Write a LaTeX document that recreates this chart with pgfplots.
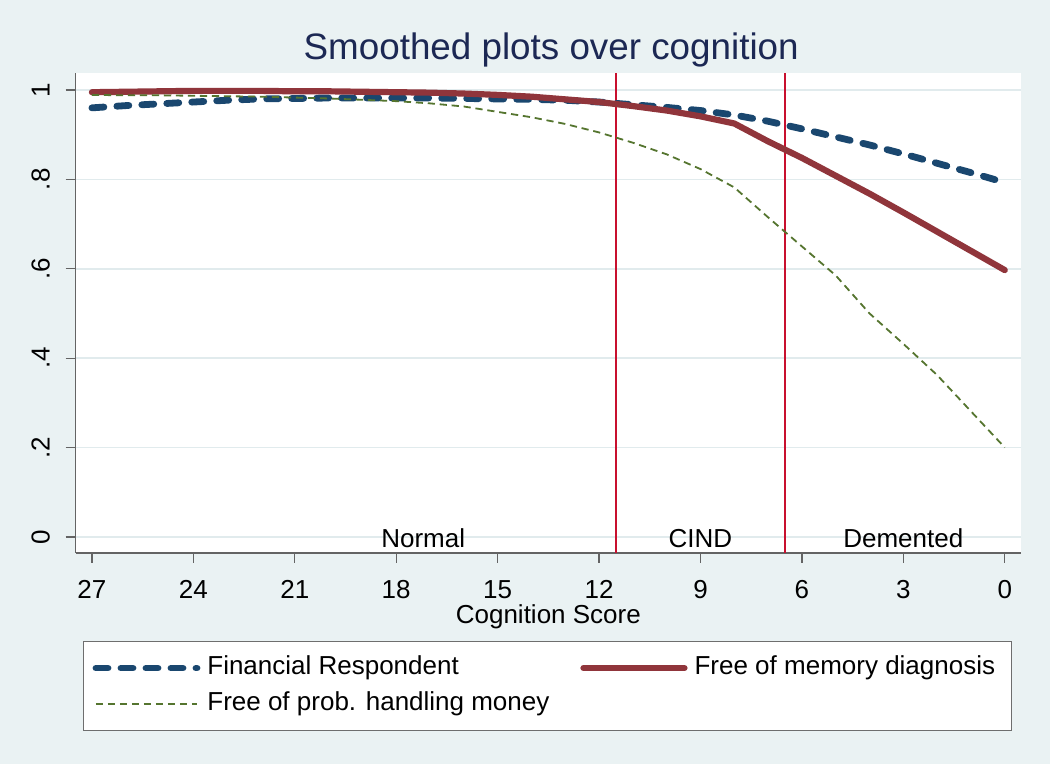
\documentclass[border=0pt]{standalone}
\usepackage{fontspec}
\setmainfont{Liberation Sans}
\usepackage{pgfplots}
\pgfplotsset{compat=1.18}
\definecolor{bg}{RGB}{234,242,243}
\definecolor{sNavy}{RGB}{26,71,111}
\definecolor{sMaroon}{RGB}{144,53,59}
\definecolor{sGreen}{RGB}{85,117,47}
\definecolor{vred}{RGB}{200,16,46}
\definecolor{ttl}{RGB}{28,40,84}
\definecolor{axgray}{RGB}{100,100,100}
\definecolor{gridc}{RGB}{225,235,237}
\definecolor{legbord}{RGB}{110,110,110}
\newcommand\fs{\fontsize{13}{15.6}\selectfont}

\begin{document}
\begin{tikzpicture}
\fill[bg] (0,0) rectangle (525pt,382pt);
\begin{axis}[
  at={(37.85pt,105.5pt)}, anchor=south west,
  width=472.65pt, height=240pt, scale only axis,
  x dir=reverse, xmin=-0.48, xmax=27.48, ymin=-0.036, ymax=1.038,
  axis x line*=bottom, axis y line*=left,
  axis line style={-, axgray, line width=0.6pt},
  axis background/.style={fill=white},
  tick align=outside, major tick length=5pt,
  tick style={axgray, line width=0.6pt},
  xtick={0,3,...,27}, ytick={0,0.2,0.4,0.6,0.8,1},
  yticklabels={0,.2,.4,.6,.8,1},
  /pgf/number format/assume math mode=true,
  ticklabel style={font=\fs},
  xticklabel style={anchor=base, yshift=-18pt},
  yticklabel style={rotate=90, anchor=base, yshift=8pt},
  ymajorgrids, grid style={gridc, line width=0.8pt},
  xlabel={Cognition Score},
  xlabel style={font=\fs, at={(axis description cs:0.5,-0.1475)}, anchor=base},
  title={Smoothed plots over cognition},
  title style={font=\fontsize{18.4}{22}\selectfont, color=ttl, at={(axis description cs:0.503,1.0036)}, anchor=base},
  legend columns=2,
  legend cell align=left,
  legend image code/.code={\draw[#1] (0pt,0pt) -- (50.5pt,0pt); \path (51pt,0pt);},
  legend style={at={(axis description cs:0.0077,-0.1833)}, anchor=north west,
    draw=legbord, line width=0.6pt, fill=white, font=\fs,
    inner xsep=4.5pt, inner ysep=7pt, column sep=3pt, row sep=5.5pt,
    nodes={inner sep=0pt, text height=9.5pt, text depth=3pt}},
]
\addplot[vred, line width=1pt, forget plot] coordinates {(11.5,-0.036) (11.5,1.038)};
\addplot[vred, line width=1pt, forget plot] coordinates {(6.5,-0.036) (6.5,1.038)};

\addplot[sNavy, line width=3.4pt, line cap=round, dash pattern=on 6pt off 6.5pt] coordinates {
(27,0.960) (26,0.965) (25,0.969) (24,0.973) (23,0.977) (22,0.980) (21,0.981)
(20,0.982) (19,0.982) (18,0.982) (17,0.982) (16,0.981) (15,0.980) (14,0.979)
(13,0.977) (12,0.973) (11,0.967) (10,0.961) (9,0.954) (8,0.944) (7,0.930)
(6,0.913) (5,0.895) (4,0.877) (3,0.857) (2,0.836) (1,0.815) (0,0.793)};
\addlegendentry{\makebox[183.5pt][l]{Financial Respondent}}

\addplot[sMaroon, line width=3.1pt, line cap=round, line join=round] coordinates {
(27,0.995) (26,0.996) (25,0.997) (24,0.998) (23,0.998) (22,0.998) (21,0.997)
(20,0.997) (19,0.996) (18,0.995) (17,0.994) (16,0.992) (15,0.989) (14,0.985)
(13,0.979) (12,0.973) (11,0.964) (10,0.954) (9,0.941) (8,0.925) (7,0.885)
(6,0.848) (5,0.808) (4,0.768) (3,0.726) (2,0.683) (1,0.640) (0,0.597)};
\addlegendentry{\makebox[154pt][l]{Free of memory diagnosis}}

\addplot[sGreen, line width=0.9pt, dash pattern=on 3.6pt off 2.4pt] coordinates {
(27,0.989) (26,0.988) (25,0.988) (24,0.987) (23,0.986) (22,0.985) (21,0.983)
(20,0.981) (19,0.978) (18,0.975) (17,0.970) (16,0.963) (15,0.951) (14,0.939)
(13,0.924) (12,0.905) (11,0.882) (10,0.856) (9,0.823) (8,0.782) (7,0.715)
(6,0.650) (5,0.585) (4,0.500) (3,0.432) (2,0.362) (1,0.281) (0,0.200)};
\addlegendentry{\makebox[183.5pt][l]{Free of prob. handling money}}

\node[font=\fs, anchor=base] at (axis cs:17.2,-0.0246) {Normal};
\node[font=\fs, anchor=base] at (axis cs:9,-0.0246) {CIND};
\node[font=\fs, anchor=base] at (axis cs:3,-0.0246) {Demented};
\end{axis}
\pgfresetboundingbox
\useasboundingbox (0,0) rectangle (525pt,382pt);
\end{tikzpicture}
\end{document}
